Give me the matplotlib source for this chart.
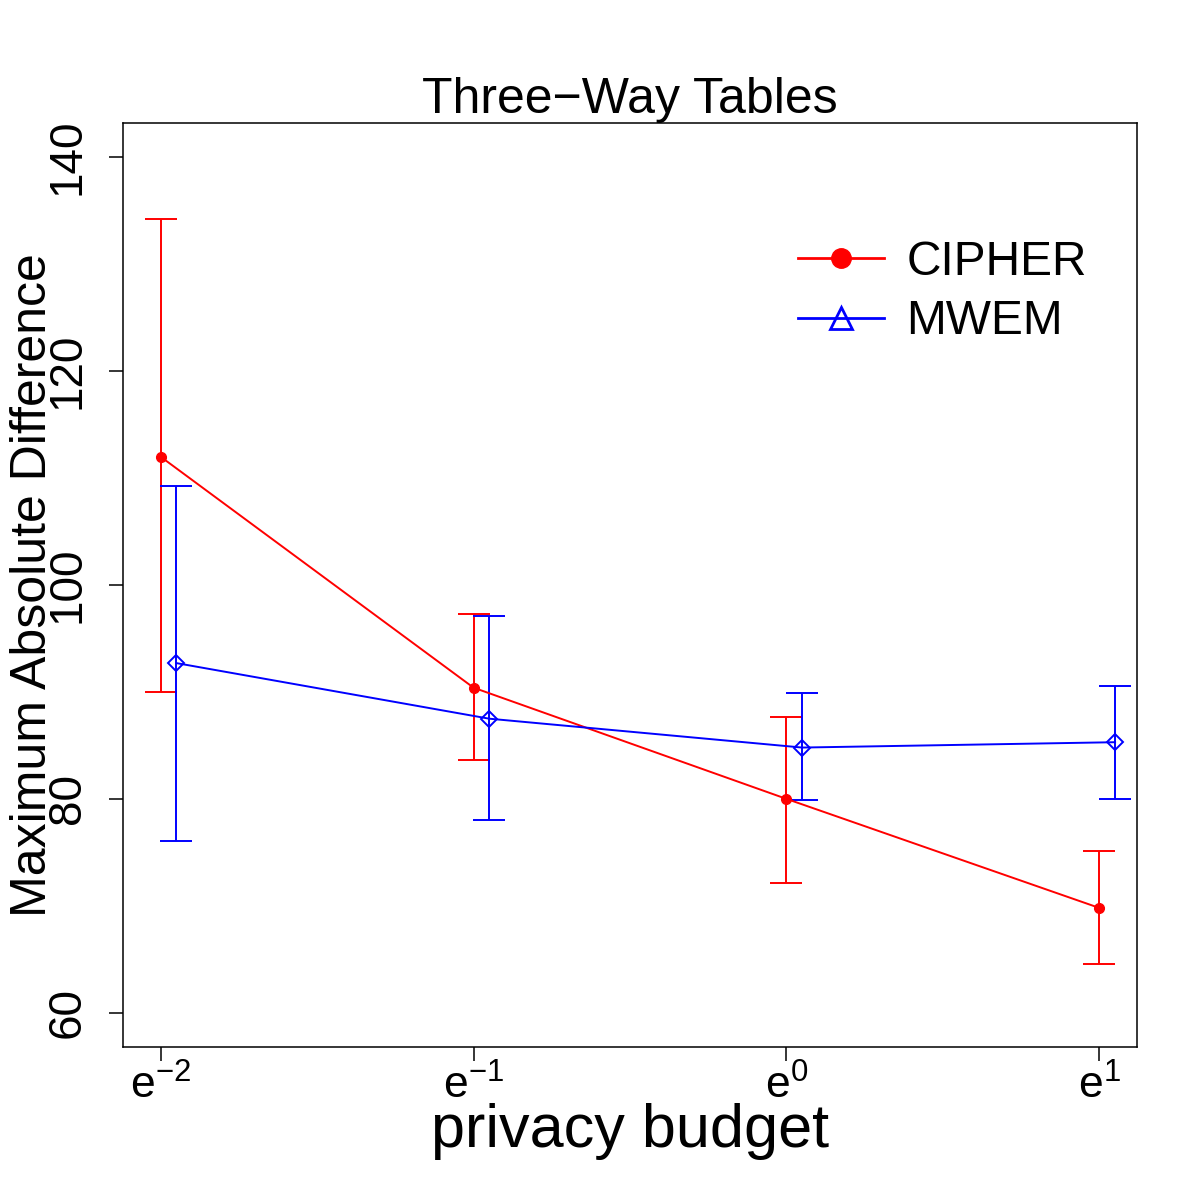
import numpy as np
import matplotlib.pyplot as plt
from matplotlib.lines import Line2D

plt.rcParams['font.family'] = ['Liberation Sans', 'DejaVu Sans']
plt.rcParams['mathtext.fontset'] = 'custom'
plt.rcParams['mathtext.rm'] = 'Liberation Sans'
plt.rcParams['mathtext.it'] = 'Liberation Sans'

# privacy budget exponents (x = e^k)
log_budget = [-2, -1, 0, 1]
tick_labels = [r'$\mathregular{e^{-2}}$', r'$\mathregular{e^{-1}}$',
               r'$\mathregular{e^{0}}$', r'$\mathregular{e^{1}}$']

cipher_mean = [112.0, 90.4, 80.0, 69.8]
cipher_low = [90.0, 83.6, 72.1, 64.6]
cipher_high = [134.2, 97.3, 87.7, 75.1]

mwem_mean = [92.7, 87.5, 84.8, 85.3]
mwem_low = [76.1, 78.0, 79.9, 80.0]
mwem_high = [109.3, 97.1, 89.9, 90.6]

shift = 0.05  # side-by-side offset for the MWEM series

fig = plt.figure(figsize=(12, 12), dpi=100)
ax = fig.add_axes([0.1025, 0.1275, 0.845, 0.77])

x1 = np.array(log_budget, dtype=float)
x2 = x1 + shift
c_mean = np.array(cipher_mean)
m_mean = np.array(mwem_mean)

ax.errorbar(x1, c_mean,
            yerr=[c_mean - np.array(cipher_low), np.array(cipher_high) - c_mean],
            color='#ff0000', lw=1.4, elinewidth=1.4, capsize=11.5, capthick=1.4,
            marker='o', ms=7, mfc='#ff0000', mec='#ff0000')
ax.errorbar(x2, m_mean,
            yerr=[m_mean - np.array(mwem_low), np.array(mwem_high) - m_mean],
            color='#0000ff', lw=1.4, elinewidth=1.4, capsize=11.5, capthick=1.4,
            marker='D', ms=8, mfc='none', mec='#0000ff', mew=1.4)

ax.set_xlim(-2.12, 1.12)
ax.set_ylim(56.8, 143.2)
ax.set_xticks(log_budget)
ax.set_xticklabels(tick_labels)
ax.set_yticks([60, 80, 100, 120, 140])
ax.tick_params(axis='both', direction='out', length=10, width=1.1)
ax.tick_params(axis='x', pad=3, labelsize=32)
ax.tick_params(axis='y', pad=14, labelsize=33)
for lab in ax.get_yticklabels():
    lab.set_rotation(90)
    lab.set_va('center')
for sp in ax.spines.values():
    sp.set_linewidth(1.1)

ax.set_title('Three\u2212Way Tables', fontsize=36, pad=4)
ax.set_xlabel('privacy budget', fontsize=44, labelpad=-4)
ax.set_ylabel('Maximum Absolute Difference', fontsize=36)
ax.yaxis.label.set_va('center')
ax.yaxis.set_label_coords(-0.089, 0.5)

handles = [
    Line2D([], [], color='#ff0000', lw=2, marker='o', ms=14, mfc='#ff0000', mec='#ff0000'),
    Line2D([], [], color='#0000ff', lw=2, marker='^', ms=16, mfc='none', mec='#0000ff', mew=2),
]
ax.legend(handles, ['CIPHER', 'MWEM'], loc='upper right', bbox_to_anchor=(0.993, 0.92),
          frameon=False, fontsize=34.5, handlelength=1.8, handletextpad=0.47,
          labelspacing=0.3)

fig.savefig('out.png', dpi=100)
